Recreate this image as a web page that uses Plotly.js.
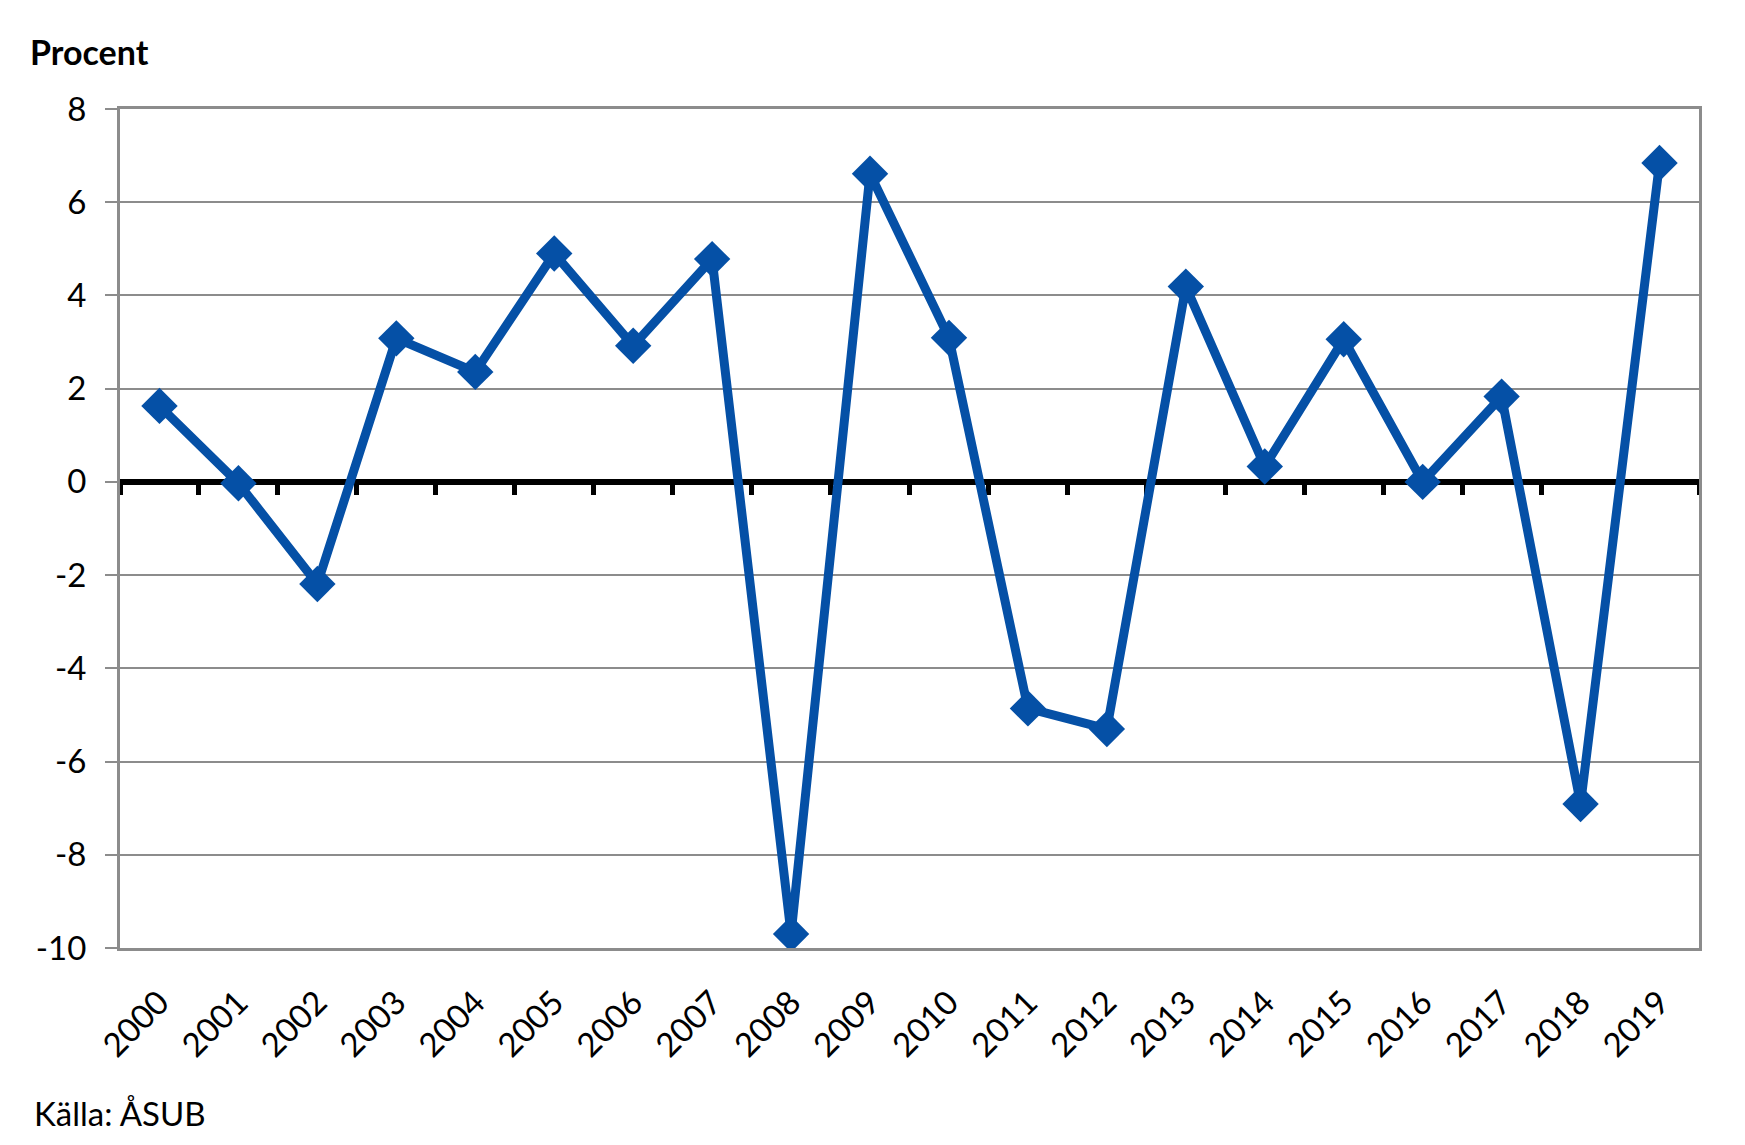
<!DOCTYPE html>
<html>
<head>
<meta charset="utf-8">
<script src="https://cdn.plot.ly/plotly-3.0.1.min.js"></script>
<style>
  html, body { margin: 0; padding: 0; background: #ffffff; }
  #chart { width: 1745px; height: 1145px; }
</style>
</head>
<body>
<div id="chart"></div>
<script>
// ---- Data ----
const years = ["2000","2001","2002","2003","2004","2005","2006","2007","2008","2009",
               "2010","2011","2012","2013","2014","2015","2016","2017","2018","2019"];
const values = [1.63, -0.03, -2.19, 3.08, 2.36, 4.9, 2.92, 4.78, -9.7, 6.61,
                3.09, -4.86, -5.3, 4.19, 0.33, 3.06, 0.0, 1.83, -6.91, 6.84];
const yTickValues = [-10, -8, -6, -4, -2, 0, 2, 4, 6, 8];
const yRange = [-10, 8];
const titleText = "Procent";
const sourceText = "Källa: ÅSUB";

// ---- Style ----
const FONT = "Lato, 'Open Sans', Arial, sans-serif";
const BLUE = "#0550a6";
const GRID = "#8c8c8c";

// category boundaries for the tick marks on the zero line
const boundaries = years.map((_, i) => i - 0.5).concat([years.length - 0.5]);
const xRange = [-0.5, years.length - 0.5];
const zeroPos = (0 - yRange[0]) / (yRange[1] - yRange[0]);

const trace = {
  type: "scatter",
  mode: "lines+markers",
  x: years,
  y: values,
  line: { color: BLUE, width: 9 },
  marker: { symbol: "diamond", size: 28, color: BLUE, line: { width: 0 } },
  hoverinfo: "x+y",
  showlegend: false
};

// invisible helper trace so the zero-line tick axis (xaxis2) is drawn
const helper = {
  type: "scatter",
  mode: "markers",
  x: years.map((_, i) => i),
  y: values,
  xaxis: "x2",
  yaxis: "y",
  marker: { opacity: 0, size: 1 },
  hoverinfo: "skip",
  showlegend: false
};

const layout = {
  width: 1745,
  height: 1145,
  paper_bgcolor: "#ffffff",
  plot_bgcolor: "#ffffff",
  margin: { l: 120, r: 46, t: 109, b: 197 },
  font: { family: FONT, color: "#000000", size: 33 },
  title: {
    text: titleText,
    font: { family: FONT, size: 34, weight: 700, color: "#000000" },
    xref: "container", yref: "container",
    x: 30 / 1745, xanchor: "left",
    y: 1 - 53 / 1145, yanchor: "middle"
  },
  xaxis: {
    type: "category",
    range: xRange,
    showgrid: false,
    zeroline: false,
    showline: true,
    linecolor: GRID,
    linewidth: 3,
    mirror: true,
    ticks: "",
    tickangle: -45,
    ticklabelstandoff: 19,
    tickfont: { family: FONT, size: 33, color: "#000000" }
  },
  xaxis2: {
    type: "linear",
    overlaying: "x",
    anchor: "free",
    position: zeroPos,
    range: xRange,
    showgrid: false,
    zeroline: false,
    showline: false,
    showticklabels: false,
    tickmode: "array",
    tickvals: boundaries,
    ticks: "outside",
    ticklen: 12,
    tickwidth: 5,
    tickcolor: "#000000",
    layer: "below traces"
  },
  yaxis: {
    range: yRange,
    tickmode: "array",
    tickvals: yTickValues,
    ticktext: yTickValues.map(String),
    showgrid: true,
    gridcolor: GRID,
    gridwidth: 2,
    zeroline: true,
    zerolinecolor: "#000000",
    zerolinewidth: 6,
    showline: true,
    linecolor: GRID,
    linewidth: 3,
    mirror: true,
    ticks: "outside",
    ticklen: 12,
    tickwidth: 2,
    tickcolor: GRID,
    ticklabelstandoff: 12,
    tickfont: { family: FONT, size: 33, color: "#000000" }
  },
  annotations: [{
    text: sourceText,
    xref: "paper", yref: "paper",
    x: (32 - 120) / 1579, xanchor: "left",
    y: (948 - 1113) / 839, yanchor: "middle",
    showarrow: false,
    font: { family: FONT, size: 33, color: "#000000" }
  }]
};

Plotly.newPlot("chart", [helper, trace], layout, { displayModeBar: false, staticPlot: true });
</script>
</body>
</html>
